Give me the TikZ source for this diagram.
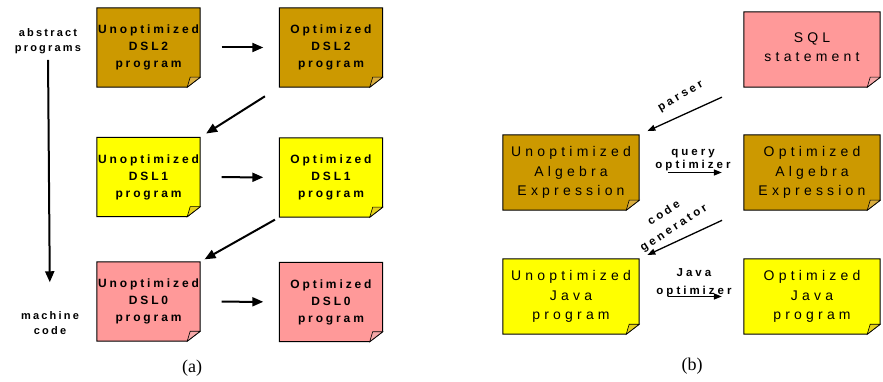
\documentclass[tikz,border=0pt]{standalone}
\usepackage{fontspec}
\setmainfont{Liberation Serif}
\newfontfamily\spA{Liberation Sans}[LetterSpace=24]
\newfontfamily\spS{Liberation Sans}[LetterSpace=20]
\newfontfamily\spL{Liberation Sans}[LetterSpace=26]
\newfontfamily\spB{Liberation Sans}[LetterSpace=30]
\usetikzlibrary{arrows.meta}
\pgfdeclarelayer{bg}
\pgfsetlayers{bg,main}
\definecolor{gold}{HTML}{CC9900}
\definecolor{goldf}{HTML}{D9AD40}
\definecolor{yel}{HTML}{FFFF00}
\definecolor{yelf}{HTML}{E6D21A}
\definecolor{pnk}{HTML}{FF9999}
\definecolor{pnkf}{HTML}{F5A8A8}
\tikzset{
  boxa/.style={minimum width=103pt, minimum height=79pt, inner sep=0pt, align=center,
    font=\spA\bfseries\fontsize{12}{17}\selectfont},
  boxb/.style={minimum width=136pt, minimum height=75pt, inner sep=0pt, align=center,
    font=\spB\fontsize{14}{19.5}\selectfont},
  sidelbl/.style={align=center, inner sep=2pt, font=\spS\bfseries\fontsize{11}{15}\selectfont},
  arrlbl/.style={align=center, inner sep=0pt, font=\spL\bfseries\fontsize{11.5}{14}\selectfont},
  arra/.style={line width=2pt, -{Triangle[length=11pt,width=9pt]}},
  arrb/.style={line width=1.3pt, -{Triangle[length=8pt,width=6pt]}},
  captxt/.style={font=\fontsize{18}{20}\selectfont}
}
\newcommand\notebg[3]{%
  \filldraw[fill=#2, draw=black, line width=1pt] (#1.north west) -- (#1.north east)
    -- ([yshift=10pt]#1.south east) -- ([xshift=-13pt]#1.south east) -- (#1.south west) -- cycle;
  \filldraw[fill=#3, draw=black, line width=0.6pt] ([yshift=10pt]#1.south east)
    -- ([xshift=-10pt,yshift=10pt]#1.south east) -- ([xshift=-13pt]#1.south east) -- cycle;
}
\begin{document}
\begin{tikzpicture}[x=1pt,y=-1pt]
\useasboundingbox (0,0) rectangle (883,382);
% (a)
\node[boxa] (a2u) at (148.5,47.5) {Unoptimized\\DSL2\\program};
\node[boxa] (a2o) at (331,47.5) {Optimized\\DSL2\\program};
\node[boxa] (a1u) at (148.5,177) {Unoptimized\\DSL1\\program};
\node[boxa] (a1o) at (331,177.5) {Optimized\\DSL1\\program};
\node[boxa] (a0u) at (148.5,301.5) {Unoptimized\\DSL0\\program};
\node[boxa] (a0o) at (331,302) {Optimized\\DSL0\\program};
\node[sidelbl] (abs) at (48,41) {abstract\\programs};
\node[sidelbl] (mach) at (50,323) {machine\\code};
\node[captxt] (capa) at (192,368) {(a)};
% (b)
\node[boxb] (sql) at (812,49.5) {SQL\\statement\rule[-5pt]{0pt}{5pt}};
\node[boxb] (algu) at (571,172.5) {Unoptimized\\Algebra\\Expression};
\node[boxb] (algo) at (812,172.5) {Optimized\\Algebra\\Expression};
\node[boxb] (javu) at (571,296.5) {Unoptimized\\Java\\program};
\node[boxb] (javo) at (812,296.5) {Optimized\\Java\\program};
\node[arrlbl, rotate=30] (lpar) at (681,97) {parser};
\node[arrlbl, font=\spL\bfseries\fontsize{11.5}{13.5}\selectfont] (lqo) at (693,160) {query\\optimizer};
\node[arrlbl, rotate=33, font=\spL\bfseries\fontsize{11.5}{18}\selectfont] (lcg) at (669,221) {code\\generator};
\node[arrlbl, font=\spL\bfseries\fontsize{11.5}{18}\selectfont] (ljo) at (694,283) {Java\\optimizer};
\node[captxt] (capb) at (692,366) {(b)};
\begin{pgfonlayer}{bg}
\notebg{a2u}{gold}{goldf}
\notebg{a2o}{gold}{goldf}
\notebg{a1u}{yel}{yelf}
\notebg{a1o}{yel}{yelf}
\notebg{a0u}{pnk}{pnkf}
\notebg{a0o}{pnk}{pnkf}
\notebg{sql}{pnk}{pnkf}
\notebg{algu}{gold}{goldf}
\notebg{algo}{gold}{goldf}
\notebg{javu}{yel}{yelf}
\notebg{javo}{yel}{yelf}
\end{pgfonlayer}
% arrows (a)
\draw[arra, shorten <=4pt, shorten >=27pt] (abs.south) -- (mach.north);
\draw[arra, shorten <=21.5pt, shorten >=16pt] (a2u) -- (a2o);
\draw[arra, shorten <=21.5pt, shorten >=16pt] (a1u) -- (a1o);
\draw[arra, shorten <=21.5pt, shorten >=16pt] (a0u) -- (a0o);
\draw[arra, shorten <=17pt, shorten >=7pt] (a2o.south west) -- (a1u.north east);
\draw[arra, shorten <=5pt, shorten >=5pt] (a1o.south west) -- (a0u.north east);
% arrows (b)
\draw[arrb, shorten <=24pt, shorten >=9pt] (sql.south west) -- (algu.north east);
\draw[arrb, shorten <=29pt, shorten >=22pt] (algu) -- (algo);
\draw[arrb, shorten <=24pt, shorten >=9pt] (algo.south west) -- (javu.north east);
\draw[arrb, shorten <=29pt, shorten >=22pt] (javu) -- (javo);
\end{tikzpicture}
\end{document}
